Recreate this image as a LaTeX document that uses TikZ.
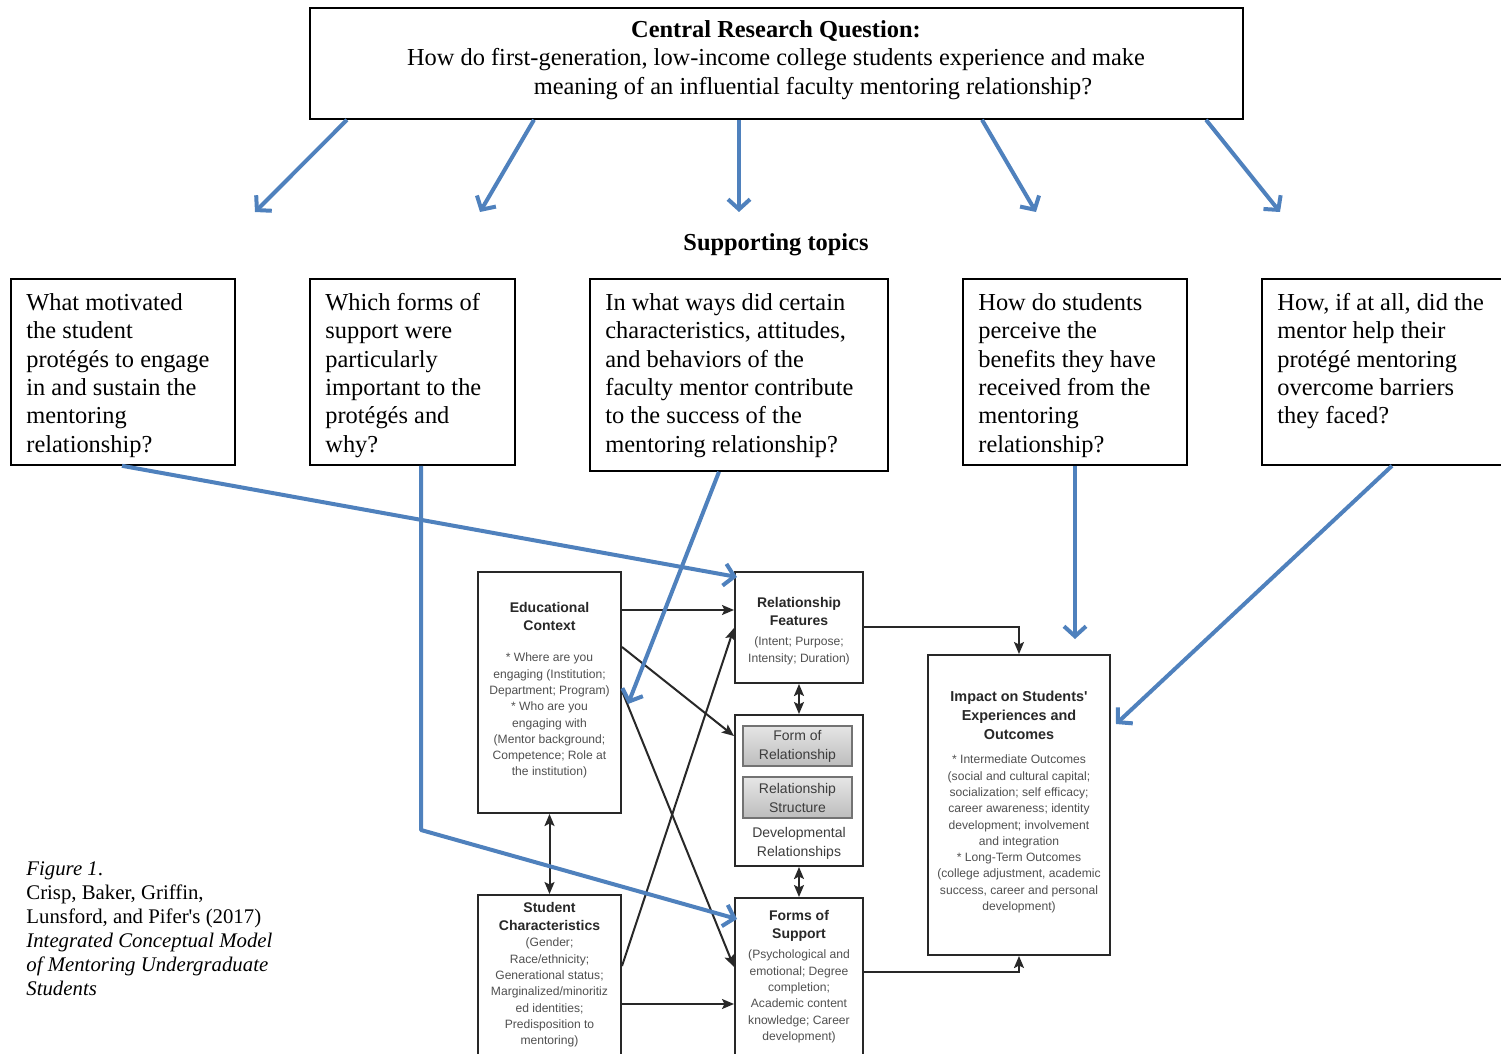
\documentclass[tikz,border=0pt]{standalone}
\usepackage{fontspec}
\setmainfont{Liberation Serif}
\setsansfont{Liberation Sans}
\usetikzlibrary{arrows.meta,fit,calc}
\definecolor{blueA}{RGB}{79,129,189}
\definecolor{ink}{RGB}{40,40,40}
\definecolor{bodyg}{RGB}{80,80,80}
\begin{document}
\begin{tikzpicture}[x=0.5pt,y=-0.5pt,
  qbox/.style={draw=black, line width=0.8pt, inner sep=0pt},
  dbox/.style={draw=ink, line width=1pt, inner sep=0pt},
  gbox/.style={draw=black!55, line width=0.7pt, inner sep=0pt, top color=black!10, bottom color=black!26},
  serif/.style={font=\fontsize{12.2}{14.2}\selectfont, inner sep=0pt},
  qtext/.style={serif, anchor=north west, align=left},
  ttl/.style={font=\sffamily\bfseries\fontsize{7}{8.9}\selectfont, text=ink, align=center, anchor=north, inner sep=0pt},
  bdy/.style={font=\sffamily\fontsize{6.05}{8.15}\selectfont, text=bodyg, align=center, anchor=north, inner sep=0pt},
  mid/.style={font=\sffamily\fontsize{7}{9.5}\selectfont, text=ink!90, align=center, inner sep=0pt},
  bluearr/.style={draw=blueA, line width=2pt, line join=round, -{Straight Barb[length=5pt,width=11pt]}},
  blk/.style={draw=ink, line width=1pt, -{Stealth[length=6pt,width=5pt,inset=1.2pt]}},
  blk2/.style={draw=ink, line width=1pt, {Stealth[length=6pt,width=5pt,inset=1.2pt]}-{Stealth[length=6pt,width=5pt,inset=1.2pt]}},
]
\path[use as bounding box, fill=white] (0,0) rectangle (1501,1054);

% central question
\node[qbox, fit={(310,8) (1243,119)}] (c) {};
\node[serif, anchor=base, font=\fontsize{12.2}{14.2}\selectfont\bfseries] (c1) at (776,38) {Central Research Question:};
\node[serif, anchor=base] (c2) at (776,66) {How do first-generation, low-income college students experience and make};
\node[serif, anchor=base] (c3) at (813,95) {meaning of an influential faculty mentoring relationship?};

\coordinate (a1) at (255,212);
\coordinate (a2) at (480,212);
\coordinate (a3) at (739,212);
\coordinate (a4) at (1036,212);
\coordinate (a5) at (1280,212);
\draw[bluearr] (347,0 |- c.south) -- (a1);
\draw[bluearr] (534,0 |- c.south) -- (a2);
\draw[bluearr] (739,0 |- c.south) -- (a3);
\draw[bluearr] (982,0 |- c.south) -- (a4);
\draw[bluearr] (1206,0 |- c.south) -- (a5);

\node[serif, anchor=base, font=\fontsize{12.2}{14.2}\selectfont\bfseries] (st) at (776,250) {Supporting topics};

% supporting question boxes
\node[qbox, fit={(11,279) (235,465)}] (q1) {};
\node[qbox, fit={(310,279) (515,465)}] (q2) {};
\node[qbox, fit={(590,279) (888,471)}] (q3) {};
\node[qbox, fit={(963,279) (1187,465)}] (q4) {};
\node[qbox, fit={(1262,279) (1504,465)}] (q5) {};
\node[qtext] (q1t) at (26,290) {\strut What motivated\\the student\\protégés to engage\\in and sustain the\\mentoring\\relationship?};
\node[qtext] (q2t) at (325,290) {\strut Which forms of\\support were\\particularly\\important to the\\protégés and\\why?};
\node[qtext] (q3t) at (605,290) {\strut In what ways did certain\\characteristics, attitudes,\\and behaviors of the\\faculty mentor contribute\\to the success of the\\mentoring relationship?};
\node[qtext] (q4t) at (978,290) {\strut How do students\\perceive the\\benefits they have\\received from the\\mentoring\\relationship?};
\node[qtext] (q5t) at (1277,290) {\strut How, if at all, did the\\mentor help their\\protégé mentoring\\overcome barriers\\they faced?};

% model boxes
\node[dbox, fit={(478,572) (621,813)}] (ec) {};
\node[dbox, fit={(735,572) (863,683)}] (rf) {};
\node[dbox, fit={(735,715) (863,866)}] (dr) {};
\node[dbox, fit={(735,898) (863,1058)}] (fs) {};
\node[dbox, fit={(478,895) (621,1058)}] (sc) {};
\node[dbox, fit={(928,655) (1110,955)}] (imp) {};
\node[gbox, fit={(743,726) (852,766)}] (g1) {};
\node[gbox, fit={(743,777) (852,818)}] (g2) {};

\node[ttl] (ect) at (549.5,600) {\strut Educational\\Context};
\node[bdy] (ecb) at (549.5,650) {\strut * Where are you\\engaging (Institution;\\Department; Program)\\* Who are you\\engaging with\\(Mentor background;\\Competence; Role at\\the institution)};
\node[ttl] (rft) at (799,595) {\strut Relationship\\Features};
\node[bdy] (rfb) at (799,634) {\strut (Intent; Purpose;\\Intensity; Duration)};
\node[mid] (g1t) at (g1.center) {Form of\\Relationship};
\node[mid] (g2t) at (g2.center) {Relationship\\Structure};
\node[mid] (drt) at (799,843.5) {Developmental\\Relationships};
\node[ttl] (fst) at (799,908) {\strut Forms of\\Support};
\node[bdy] (fsb) at (799,947) {\strut (Psychological and\\emotional; Degree\\completion;\\Academic content\\knowledge; Career\\development)};
\node[ttl] (sct) at (549.5,900) {\strut Student\\Characteristics};
\node[bdy] (scb) at (549.5,935) {\strut (Gender;\\Race/ethnicity;\\Generational status;\\Marginalized/minoritiz\\ed identities;\\Predisposition to\\mentoring)};
\node[ttl, font=\sffamily\bfseries\fontsize{7.2}{9.5}\selectfont] (impt) at (1019,688) {\strut Impact on Students\textquotesingle\\Experiences and\\Outcomes};
\node[bdy] (impb) at (1019,752) {\strut * Intermediate Outcomes\\(social and cultural capital;\\socialization; self efficacy;\\career awareness; identity\\development; involvement\\and integration\\* Long-Term Outcomes\\(college adjustment, academic\\success, career and personal\\development)};

% black connectors
\draw[blk] ([shift={(0,39)}]ec.north east) -- ([shift={(0,39)}]rf.north west);
\draw[blk] ([shift={(0,76)}]ec.north east) -- ([shift={(0,22)}]dr.north west);
\draw[blk] ([shift={(0,120)}]ec.north east) -- ([shift={(0,70)}]fs.north west);
\draw[blk] ([shift={(0,72)}]sc.north east) -- ([shift={(0,57)}]rf.north west);
\draw[blk] ([shift={(0,110)}]sc.north east) -- ([shift={(0,107)}]fs.north west);
\draw[blk2] (ec.south) -- (sc.north);
\draw[blk2] (rf.south) -- (dr.north);
\draw[blk2] (dr.south) -- (fs.north);
\draw[blk] ([shift={(0,56)}]rf.north east) -| (imp.north);
\draw[blk] ([shift={(0,75)}]fs.north east) -| (imp.south);

% blue connectors from supporting topics
\draw[bluearr] (122,0 |- q1.south) -- ([shift={(3,6)}]rf.north west);
\draw[bluearr] (421,0 |- q2.south) -- (421,830) -- ([shift={(3,22)}]fs.north west);
\draw[bluearr] (719,0 |- q3.south) -- ([shift={(6,133)}]ec.north east);
\draw[bluearr] (1075,0 |- q4.south) -- ([shift={(56,-15)}]imp.north);
\draw[bluearr] (1392,0 |- q5.south) -- ([shift={(5,70)}]imp.north east);

% caption
\node[anchor=north west, align=left, inner sep=0pt, font=\fontsize{10.4}{12}\selectfont] (cap) at (26,858) {\strut\textit{Figure 1}.\\Crisp, Baker, Griffin,\\Lunsford, and Pifer\textquotesingle s (2017)\\\textit{Integrated Conceptual Model}\\\textit{of Mentoring Undergraduate}\\\textit{Students}};
\end{tikzpicture}
\end{document}
